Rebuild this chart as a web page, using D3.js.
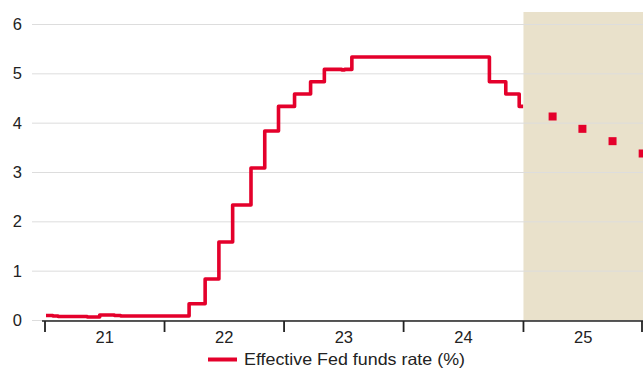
<!DOCTYPE html>
<html>
<head>
<meta charset="utf-8">
<script src="https://cdn.jsdelivr.net/npm/d3@7"></script>
<style>
  html, body { margin: 0; padding: 0; background: #ffffff; }
  svg { display: block; font-family: "Liberation Sans", Arial, sans-serif; }
</style>
</head>
<body>
<svg id="chart" width="643" height="372"></svg>
<script>
// Effective federal funds rate: dates where the rate changed, and the new level (%)
const rateDates = [
  "2021-01-04", "2021-01-25", "2021-02-10", "2021-05-10", "2021-06-17",
  "2021-08-01", "2021-08-20", "2022-03-17", "2022-05-05", "2022-06-16",
  "2022-07-28", "2022-09-22", "2022-11-03", "2022-12-15", "2023-02-02",
  "2023-03-23", "2023-05-04", "2023-06-26", "2023-07-05", "2023-07-27",
  "2024-09-19", "2024-11-08", "2024-12-19", "2024-12-31"
];
const rateValues = [
  0.09, 0.08, 0.07, 0.06, 0.10,
  0.09, 0.08, 0.33, 0.83, 1.58,
  2.33, 3.08, 3.83, 4.33, 4.58,
  4.83, 5.08, 5.07, 5.08, 5.33,
  4.83, 4.58, 4.33, 4.33
];

// Projected path (end of each quarter of 2025)
const projDates = ["2025-03-31", "2025-06-30", "2025-09-30", "2025-12-31"];
const projValues = [4.125, 3.875, 3.625, 3.375];

// Axis labels
const yTicks = [0, 1, 2, 3, 4, 5, 6];
const yearLabels = ["21", "22", "23", "24", "25"];
const yearStarts = ["2021-01-01", "2022-01-01", "2023-01-01", "2024-01-01", "2025-01-01", "2026-01-01"];
const forecastStart = "2025-01-01";
const legendLabel = "Effective Fed funds rate (%)";

const RED = "#e4002b";
const SHADE = "#e9e1cb";
const parse = d3.utcParse("%Y-%m-%d");

const svg = d3.select("#chart");
const W = 643;

const x = d3.scaleUtc()
  .domain([parse("2021-01-01"), parse("2026-01-01")])
  .range([45, 643]);
const y = d3.scaleLinear().domain([0, 6]).range([320, 24]);

// Forecast shading
svg.append("rect")
  .attr("x", x(parse(forecastStart)))
  .attr("y", 12)
  .attr("width", W - x(parse(forecastStart)))
  .attr("height", y(0) - 12)
  .attr("fill", SHADE);

// Horizontal gridlines
svg.append("g").selectAll("line")
  .data(yTicks)
  .join("line")
  .attr("x1", 32).attr("x2", W)
  .attr("y1", d => y(d) + 0.5).attr("y2", d => y(d) + 0.5)
  .attr("stroke", "#dddddd")
  .attr("stroke-width", 1);

// Y labels
svg.append("g").selectAll("text")
  .data(yTicks)
  .join("text")
  .attr("x", 22)
  .attr("y", d => y(d) + 6)
  .attr("text-anchor", "end")
  .attr("font-size", 16.5)
  .attr("fill", "#222")
  .text(d => d);

// Rate line
const series = rateDates.map((d, i) => ({ date: parse(d), value: rateValues[i] }));
const line = d3.line()
  .x(d => x(d.date))
  .y(d => y(d.value))
  .curve(d3.curveStepAfter);

svg.append("path")
  .datum(series)
  .attr("d", line)
  .attr("fill", "none")
  .attr("stroke", RED)
  .attr("stroke-width", 3.6)
  .attr("stroke-linejoin", "round")
  .attr("stroke-linecap", "butt");

// Projection markers
const proj = projDates.map((d, i) => ({ date: parse(d), value: projValues[i] }));
svg.append("g").selectAll("rect")
  .data(proj)
  .join("rect")
  .attr("x", d => x(d.date) - 4)
  .attr("y", d => y(d.value) - 4)
  .attr("width", 8)
  .attr("height", 8)
  .attr("fill", RED);

// X axis baseline and year ticks
svg.append("line")
  .attr("x1", 42).attr("x2", W)
  .attr("y1", 321).attr("y2", 321)
  .attr("stroke", "#222")
  .attr("stroke-width", 1.5);

svg.append("g").selectAll("line")
  .data(yearStarts.map(parse))
  .join("line")
  .attr("x1", d => Math.min(x(d), W - 1)).attr("x2", d => Math.min(x(d), W - 1))
  .attr("y1", 321).attr("y2", 332)
  .attr("stroke", "#222")
  .attr("stroke-width", 1.8);

// Year labels centred within each year
svg.append("g").selectAll("text")
  .data(yearLabels)
  .join("text")
  .attr("x", (d, i) => (x(parse(yearStarts[i])) + x(parse(yearStarts[i + 1]))) / 2)
  .attr("y", 343)
  .attr("text-anchor", "middle")
  .attr("font-size", 16.5)
  .attr("fill", "#222")
  .text(d => d);

// Legend
const legend = svg.append("g");
legend.append("line")
  .attr("x1", 208).attr("x2", 237)
  .attr("y1", 359.5).attr("y2", 359.5)
  .attr("stroke", RED)
  .attr("stroke-width", 4);
legend.append("text")
  .attr("x", 244)
  .attr("y", 365)
  .attr("font-size", 16.5)
  .attr("textLength", 221)
  .attr("lengthAdjust", "spacingAndGlyphs")
  .attr("fill", "#222")
  .text(legendLabel);
</script>
</body>
</html>
